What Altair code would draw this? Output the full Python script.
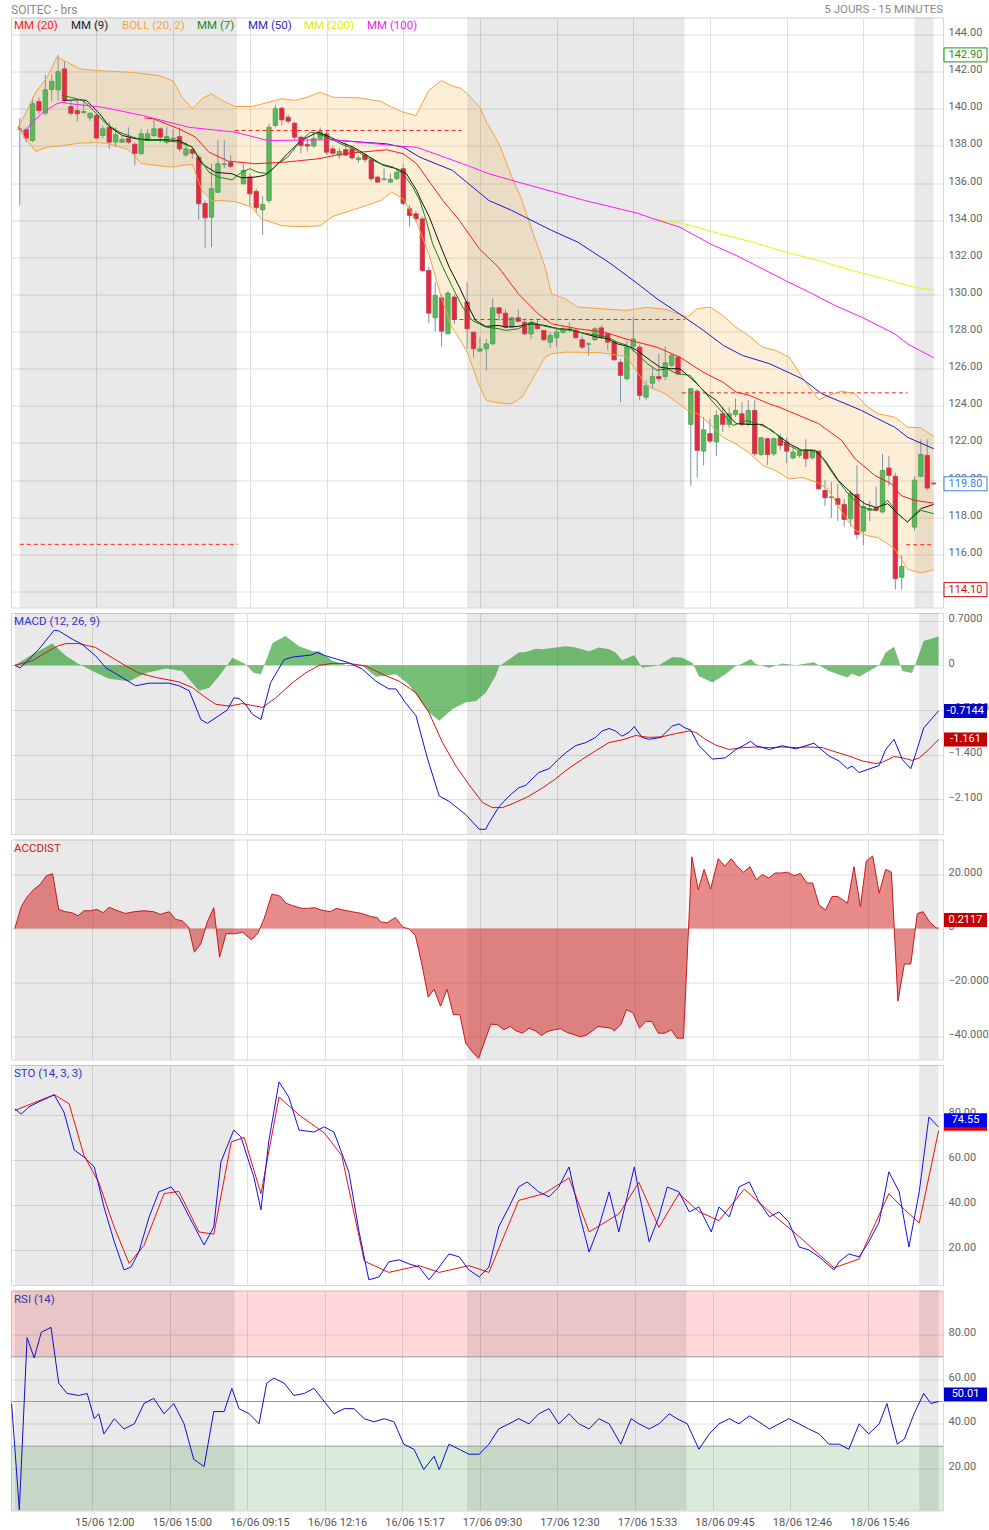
import altair as alt
import pandas as pd

FONT = "Roboto"
W = 932
H_HEAD, H_MAIN, H_MACD, H_ACC, H_STO, H_RSI = 12, 590, 221, 220, 220, 220

# ---------------- x axis (bar index) ----------------
X_DOMAIN = [-0.59, 143.68]
X_GRID = [12, 24, 36, 48, 60, 72, 84, 96, 108, 120, 132]
X_LABELS = ["15/06 12:00", "15/06 15:00", "16/06 09:15", "16/06 12:16", "16/06 15:17",
            "17/06 09:30", "17/06 12:30", "17/06 15:33", "18/06 09:45", "18/06 12:46", "18/06 15:46"]
SHADE_START = [0, 70, 140]
SHADE_END = [34, 104, 143]

# ---------------- candles: (open, high, low, close) per day ----------------
DAY_FIRST_BAR = [0, 35, 70, 105, 140]
DAY1 = [(138.9, 139.5, 134.8, 138.9), (138.87, 139.0, 138.2, 138.42), (138.29, 140.6, 138.2, 140.27),
        (140.39, 140.6, 139.7, 139.9), (139.76, 141.85, 139.64, 141.02), (141.04, 141.85, 140.4, 141.47),
        (141.02, 142.9, 140.45, 142.0), (142.15, 142.55, 140.3, 140.45), (140.12, 140.45, 139.64, 139.76),
        (139.9, 140.45, 139.3, 139.73), (139.8, 140.45, 139.7, 139.85), (139.51, 139.8, 139.35, 139.76),
        (139.64, 139.73, 138.35, 138.42), (138.56, 139.1, 138.4, 138.92), (139.0, 139.3, 137.84, 138.2),
        (138.2, 139.0, 137.93, 138.6), (138.2, 138.56, 138.15, 138.35), (138.4, 139.0, 138.1, 138.2),
        (138.08, 138.2, 136.95, 137.6), (137.58, 138.9, 137.53, 138.65), (138.38, 138.9, 138.3, 138.65),
        (138.56, 139.4, 138.47, 138.92), (138.92, 139.0, 138.2, 138.47), (138.2, 139.0, 138.11, 138.5),
        (138.4, 138.9, 138.2, 138.42), (138.5, 139.0, 137.7, 137.84), (137.52, 138.2, 137.4, 137.84),
        (137.8, 137.95, 137.3, 137.6), (137.39, 137.5, 134.04, 134.88), (134.9, 135.06, 132.5, 134.13),
        (134.16, 137.05, 132.55, 135.69), (135.5, 138.3, 135.5, 137.04), (137.0, 138.3, 136.8, 137.03),
        (137.1, 137.5, 136.8, 136.9)]
DAY2 = [(135.96, 137.0, 135.9, 136.68), (136.32, 136.5, 134.8, 135.42), (135.55, 135.7, 134.4, 134.67),
        (134.56, 135.3, 133.2, 134.85), (135.06, 139.2, 134.9, 139.0), (139.1, 140.2, 139.0, 140.0),
        (140.03, 140.1, 139.1, 139.4), (139.55, 139.7, 139.2, 139.33), (139.22, 139.3, 138.3, 138.47),
        (138.47, 138.56, 137.6, 138.02), (138.08, 138.4, 137.7, 137.99), (138.0, 138.74, 137.9, 138.4),
        (138.4, 139.0, 138.3, 138.76), (138.65, 138.8, 137.5, 137.66), (137.84, 138.0, 137.5, 137.6),
        (137.5, 137.9, 137.3, 137.7), (137.8, 138.25, 137.5, 137.5), (137.84, 138.0, 137.26, 137.35),
        (137.26, 137.5, 137.1, 137.35), (137.5, 137.6, 137.1, 137.26), (137.25, 137.3, 136.1, 136.23),
        (136.32, 136.4, 136.0, 136.05), (136.2, 136.8, 136.1, 136.22), (136.05, 136.5, 136.0, 136.2),
        (136.23, 136.77, 136.15, 136.58), (136.77, 137.0, 134.8, 134.9), (134.61, 134.8, 133.65, 134.25),
        (134.34, 134.5, 133.9, 134.07), (134.07, 134.2, 131.2, 131.29), (131.29, 131.5, 128.45, 128.99),
        (128.74, 130.66, 128.0, 129.94), (129.82, 130.0, 127.2, 128.02), (127.88, 130.2, 127.88, 130.07),
        (129.86, 130.0, 128.4, 128.65)]
DAY3 = [(129.59, 130.66, 127.07, 128.15), (127.97, 127.97, 126.6, 127.07), (126.95, 127.7, 126.9, 127.07),
        (127.07, 127.6, 125.9, 127.34), (127.34, 129.8, 127.3, 129.28), (129.28, 129.3, 128.6, 128.99),
        (128.99, 129.2, 128.15, 128.24), (128.24, 128.8, 128.2, 128.74), (128.74, 129.2, 128.5, 128.55),
        (128.5, 128.7, 127.8, 127.88), (127.88, 128.6, 127.6, 128.5), (128.38, 128.7, 128.15, 128.15),
        (128.06, 128.06, 127.5, 127.56), (127.43, 127.97, 127.1, 127.79), (127.67, 128.25, 127.2, 127.97),
        (127.97, 128.33, 127.88, 128.15), (128.12, 128.5, 127.97, 128.15), (128.06, 128.15, 127.6, 127.67),
        (127.56, 127.8, 127.06, 127.16), (127.32, 127.4, 126.7, 127.34), (127.56, 128.24, 127.5, 128.15),
        (128.2, 128.33, 127.6, 127.7), (127.88, 127.9, 127.0, 127.43), (127.43, 127.5, 126.43, 126.48),
        (126.35, 126.53, 124.2, 125.64), (125.46, 127.5, 125.37, 127.16), (127.2, 128.78, 126.9, 127.6),
        (127.16, 127.3, 124.3, 124.56), (124.47, 125.37, 124.3, 125.1), (125.22, 126.1, 124.9, 125.58),
        (125.58, 126.8, 125.3, 125.46), (125.58, 127.2, 125.37, 126.32), (126.18, 126.8, 126.1, 126.71),
        (126.62, 126.7, 125.64, 125.73)]
DAY4 = [(123.0, 124.95, 119.7, 124.92), (124.79, 124.9, 120.13, 121.6), (121.56, 123.4, 120.8, 122.71),
        (122.5, 123.3, 122.0, 122.1), (122.06, 123.75, 121.3, 123.48), (123.57, 123.93, 122.6, 123.0),
        (123.0, 123.93, 122.8, 123.57), (123.53, 124.4, 123.4, 123.75), (123.57, 124.2, 122.9, 123.0),
        (123.0, 124.3, 122.9, 123.75), (123.75, 124.3, 121.3, 121.42), (121.38, 122.3, 121.3, 122.28),
        (122.23, 122.28, 120.8, 121.38), (121.42, 122.3, 121.3, 122.23), (122.28, 122.5, 121.6, 121.87),
        (122.05, 122.3, 120.9, 121.56), (121.2, 121.8, 121.1, 121.51), (121.33, 121.6, 121.2, 121.56),
        (121.63, 122.2, 120.7, 121.15), (121.2, 121.6, 121.1, 121.56), (121.56, 121.6, 119.46, 119.53),
        (119.44, 120.0, 118.6, 119.05), (119.05, 119.9, 117.96, 119.1), (119.0, 119.8, 117.8, 118.69),
        (118.69, 119.0, 117.5, 117.88), (117.92, 119.45, 117.5, 119.3), (119.23, 120.8, 116.8, 117.07),
        (117.25, 118.9, 116.5, 118.58), (118.37, 118.9, 117.8, 118.46), (118.5, 119.65, 118.3, 118.37),
        (118.28, 121.4, 118.2, 120.52), (120.65, 121.3, 119.7, 120.25), (120.2, 120.4, 114.1, 114.69),
        (114.77, 115.95, 114.1, 115.35)]
DAY5 = [(117.47, 120.2, 117.3, 120.0), (120.2, 122.2, 120.15, 121.38), (121.33, 122.2, 119.45, 119.57),
        (119.84, 119.9, 119.75, 119.8)]

# ---------------- moving averages (bar, value) ----------------
MA20 = [(19.5, 139.5), (20.9, 139.46), (24.9, 138.92), (27.5, 138.47), (29.6, 137.66), (32.6, 137.18),
        (36.8, 137.04), (41.4, 137.12), (46.6, 137.3), (50.7, 137.58), (57.4, 137.79), (60.0, 137.58),
        (62.1, 137.04), (66.2, 135.06), (68.8, 133.98), (71.9, 132.46), (74.9, 131.47), (78.0, 130.04),
        (81.1, 128.96), (83.2, 128.42), (87.3, 128.15), (91.5, 127.97), (95.6, 127.52), (99.7, 127.16),
        (103.3, 126.62), (106.9, 125.82), (110.0, 125.28), (112.1, 124.74), (114.2, 124.56), (117.3, 124.1),
        (118.8, 123.93), (125.0, 123.04), (128.6, 122.14), (130.7, 121.15), (133.8, 120.25), (136.4, 119.8),
        (137.9, 119.17), (140.0, 118.91), (143.0, 118.76)]
MA9 = [(6.8, 140.45), (9.4, 140.48), (10.4, 140.45), (12.5, 139.73), (14.1, 139.01), (16.1, 138.56),
       (18.2, 138.38), (20.3, 138.33), (22.8, 138.33), (24.9, 138.29), (27.0, 137.93), (28.5, 137.04),
       (30.6, 136.58), (33.2, 136.5), (34.7, 136.28), (36.8, 136.32), (38.3, 136.41), (39.9, 136.85),
       (41.9, 137.58), (44.0, 138.29), (46.6, 138.74), (48.6, 138.47), (50.2, 138.2), (52.2, 137.93),
       (54.8, 137.39), (56.9, 136.95), (59.0, 136.77), (60.5, 136.5), (62.1, 135.6), (62.8, 135.06),
       (64.1, 134.16), (65.7, 132.73), (67.2, 131.47), (68.8, 130.39), (70.0, 129.5), (71.3, 128.6),
       (72.9, 128.28), (75.0, 128.33), (76.0, 128.24), (78.0, 128.28), (80.1, 128.42), (82.2, 128.33),
       (84.2, 128.15), (86.3, 128.1), (88.4, 127.88), (90.4, 127.7), (92.0, 127.61), (93.5, 127.34),
       (95.6, 127.16), (96.6, 126.98), (98.7, 126.44), (100.2, 126.08), (101.8, 126.0), (103.3, 126.0),
       (105.4, 125.37), (107.5, 124.65), (109.0, 124.29), (111.1, 123.39), (112.1, 123.04), (114.2, 123.0),
       (116.2, 123.0), (118.3, 122.5), (120.4, 121.96), (122.4, 121.6), (124.5, 121.6), (126.0, 121.06),
       (128.1, 119.98), (130.2, 119.27), (132.2, 118.73), (134.0, 118.52), (135.8, 118.73), (137.4, 118.19),
       (138.9, 117.74), (141.0, 118.46), (143.0, 118.69)]
MA7 = [(6.6, 140.72), (7.9, 140.62), (9.9, 140.45), (11.5, 139.91), (13.5, 139.19), (15.6, 138.74),
       (17.7, 138.47), (19.7, 138.29), (22.3, 138.29), (24.9, 138.2), (27.0, 137.93), (28.0, 137.39),
       (29.6, 136.58), (31.1, 136.32), (33.2, 136.17), (34.7, 136.58), (36.0, 136.77), (37.3, 136.58),
       (38.8, 136.5), (40.4, 137.04), (41.9, 137.39), (44.0, 138.29), (45.5, 138.74), (47.1, 138.6),
       (49.2, 138.29), (50.2, 138.11), (52.2, 137.84), (54.3, 137.39), (56.4, 137.04), (58.4, 136.86),
       (60.0, 136.5), (61.5, 135.78), (62.6, 135.06), (63.6, 133.98), (64.6, 132.73), (66.2, 131.47),
       (67.7, 130.39), (69.3, 129.32), (70.8, 128.6), (72.9, 128.24), (75.0, 128.15), (76.0, 128.06),
       (78.0, 128.15), (80.1, 128.51), (82.2, 128.28), (84.2, 128.15), (86.3, 128.06), (88.4, 127.91),
       (90.4, 127.79), (92.0, 127.7), (93.5, 127.43), (95.1, 127.25), (96.6, 126.8), (98.2, 126.27),
       (99.7, 125.91), (101.3, 126.0), (102.8, 125.73), (104.9, 125.64), (106.9, 124.83), (108.5, 124.2),
       (110.1, 123.57), (111.6, 122.94), (113.7, 123.21), (115.7, 123.0), (117.8, 122.68), (119.8, 121.96),
       (121.9, 121.6), (124.0, 121.63), (125.5, 121.24), (127.6, 120.16), (129.6, 119.27), (131.7, 118.55),
       (133.8, 118.37), (135.8, 118.91), (137.4, 118.19), (138.9, 117.74), (141.0, 118.37), (143.0, 118.19)]
MA50 = [(48.6, 138.35), (50.2, 138.29), (53.7, 138.2), (57.4, 138.11), (60.0, 137.93), (62.6, 137.39),
        (67.7, 136.68), (73.4, 135.06), (77.0, 134.52), (83.2, 133.45), (87.3, 132.82), (92.5, 131.65),
        (96.6, 130.6), (99.7, 129.77), (102.8, 129.05), (107.0, 128.06), (110.1, 127.25), (113.1, 126.71),
        (117.3, 126.27), (122.4, 125.46), (125.5, 124.65), (131.7, 123.75), (132.7, 123.57), (136.9, 122.85),
        (138.9, 122.31), (143.0, 121.69)]
MA200 = [(99.2, 134.07), (104.4, 133.77), (109.5, 133.27), (114.7, 132.82), (119.8, 132.28), (125.0, 131.83),
         (130.2, 131.29), (135.3, 130.84), (139.5, 130.43), (143.0, 130.21)]
MA100 = [(-0.3, 139.0), (0.8, 138.68), (1.7, 139.19), (3.7, 139.82), (5.8, 140.27), (6.6, 140.35),
         (7.9, 140.27), (13.0, 140.08), (19.2, 139.64), (26.5, 139.0), (33.7, 138.74), (38.8, 138.29),
         (48.6, 138.33), (50.2, 138.29), (60.0, 137.97), (62.1, 137.93), (69.3, 137.04), (73.4, 136.5),
         (78.0, 136.05), (84.2, 135.46), (88.4, 135.06), (96.6, 134.38), (99.2, 134.07), (103.3, 133.62),
         (108.0, 132.73), (112.1, 132.1), (119.8, 130.75), (124.0, 130.04), (127.6, 129.4), (131.7, 128.78),
         (136.9, 127.88), (138.9, 127.34), (143.0, 126.59)]
# Bollinger (20, 2): bar, upper, lower
BOLL = [(-0.3, 139.0, 139.0), (1.0, 139.8, 138.35), (2.5, 140.9, 137.7), (4.3, 141.7, 137.93),
        (5.8, 142.78, 137.98), (7.4, 142.51, 138.05), (9.4, 142.15, 138.15), (12.0, 142.06, 138.18),
        (14.0, 142.02, 138.11), (17.0, 141.97, 137.8), (19.0, 141.9, 137.05), (21.8, 141.79, 136.93),
        (24.0, 141.5, 136.86), (25.4, 140.62, 136.95), (27.0, 140.0, 137.0), (28.5, 140.54, 135.6),
        (30.0, 140.81, 135.06), (31.6, 140.45, 135.05), (33.7, 140.12, 135.0), (36.3, 140.12, 134.7),
        (37.8, 140.25, 134.07), (41.0, 140.54, 133.7), (43.0, 140.45, 133.66), (45.0, 140.62, 133.66),
        (47.0, 140.89, 133.7), (49.0, 140.62, 134.2), (53.0, 140.59, 134.65), (56.5, 140.4, 135.06),
        (58.2, 140.08, 135.51), (60.0, 139.82, 135.15), (62.0, 139.64, 133.98), (64.0, 140.98, 132.19),
        (66.0, 141.52, 129.8), (67.5, 141.25, 128.3), (69.0, 141.1, 127.5), (70.0, 140.81, 126.9),
        (72.0, 140.08, 125.0), (73.0, 139.3, 124.3), (75.0, 138.11, 124.15), (77.0, 136.32, 124.11),
        (78.6, 135.06, 124.47), (80.0, 133.62, 125.3), (82.2, 131.47, 126.62), (83.2, 130.04, 126.8),
        (85.3, 129.77, 126.89), (87.3, 129.32, 126.89), (91.0, 129.23, 126.85), (95.0, 129.14, 126.65),
        (98.0, 129.3, 125.1), (101.0, 129.2, 124.65), (104.5, 128.78, 123.75), (106.0, 129.23, 123.6),
        (108.0, 129.32, 123.0), (110.0, 128.87, 122.31), (112.0, 128.24, 121.96), (114.0, 127.8, 121.5),
        (116.2, 127.16, 120.8), (118.3, 126.98, 120.5), (120.4, 126.62, 120.06), (122.4, 125.55, 120.14),
        (125.0, 124.33, 119.85), (126.5, 124.56, 119.5), (128.6, 124.79, 118.3), (130.7, 124.65, 117.3),
        (132.7, 123.93, 117.0), (134.3, 123.57, 116.9), (136.9, 123.39, 116.3), (138.9, 122.85, 115.2),
        (141.0, 122.82, 115.0), (143.0, 122.35, 115.17)]
# dashed support / resistance levels: start bar, end bar, price
LEVELS = [(0, 34.1, 116.54), (33.6, 69.1, 138.83), (67.7, 104.1, 128.65), (103.6, 138.9, 124.7),
          (138.7, 143.0, 116.52)]
PRICE_TAGS = [(142.90, "142.90", "#1f8f1f"), (119.80, "119.80", "#3d7ee6"), (114.10, "114.10", "#cc1111")]

# ---------------- MACD (12, 26, 9) ----------------
MACD_LINE = [(0, 0.0), (0.8, -0.04), (1.7, 0.04), (3.7, 0.25), (6.1, 0.55), (6.8, 0.54), (8.9, 0.41),
             (10.4, 0.33), (12.5, 0.15), (14.1, -0.04), (16.6, -0.19), (18.7, -0.32), (20.8, -0.28),
             (23.9, -0.28), (25.4, -0.32), (27.0, -0.40), (28.8, -0.85), (29.8, -0.91), (32.9, -0.70),
             (33.9, -0.51), (34.7, -0.52), (35.7, -0.61), (36.8, -0.77), (38.1, -0.85), (39.6, -0.27),
             (41.7, 0.09), (43.0, 0.13), (45.8, 0.16), (46.8, 0.20), (48.1, 0.15), (51.7, 0.04),
             (53.8, -0.06), (55.9, -0.25), (57.9, -0.37), (59.0, -0.37), (60.5, -0.59), (62.1, -0.79),
             (63.9, -1.47), (65.7, -2.05), (67.2, -2.13), (69.8, -2.34), (71.9, -2.57), (72.9, -2.57),
             (73.4, -2.47), (75.0, -2.21), (76.5, -2.05), (78.0, -1.92), (79.1, -1.88), (81.1, -1.68),
             (82.7, -1.62), (84.2, -1.47), (85.3, -1.37), (86.8, -1.26), (88.4, -1.21), (89.9, -1.13),
             (90.9, -1.03), (92.0, -0.99), (93.0, -1.03), (94.0, -1.11), (95.1, -1.05), (95.9, -0.96),
             (97.1, -1.13), (98.2, -1.16), (100.0, -1.13), (101.8, -0.95), (102.8, -0.92), (103.9, -0.99),
             (104.6, -1.01), (105.9, -1.26), (108.0, -1.47), (110.0, -1.45), (111.6, -1.32), (113.1, -1.24),
             (113.9, -1.19), (114.7, -1.26), (116.8, -1.32), (118.8, -1.26), (120.9, -1.31), (123.7, -1.22),
             (126.0, -1.42), (127.6, -1.50), (128.9, -1.62), (129.6, -1.58), (130.7, -1.68), (133.8, -1.57),
             (134.8, -1.32), (136.1, -1.16), (137.4, -1.48), (138.7, -1.62), (139.5, -1.37), (140.7, -0.98),
             (143.0, -0.7144)]
MACD_SIGNAL = [(0, 0.0), (2.7, 0.07), (4.8, 0.20), (6.8, 0.31), (7.9, 0.34), (9.9, 0.34), (12.5, 0.28),
               (14.6, 0.15), (17.2, -0.01), (19.2, -0.12), (21.8, -0.19), (25.4, -0.26), (27.5, -0.35),
               (29.6, -0.51), (31.1, -0.61), (33.2, -0.64), (35.2, -0.60), (36.8, -0.63), (38.3, -0.66),
               (40.4, -0.51), (43.0, -0.27), (45.0, -0.12), (47.1, 0.0), (49.2, 0.03), (51.7, 0.03),
               (54.3, -0.01), (56.9, -0.14), (59.5, -0.25), (62.1, -0.43), (64.1, -0.74), (66.2, -1.21),
               (68.3, -1.58), (70.3, -1.87), (72.4, -2.15), (73.9, -2.23), (75.5, -2.23), (77.5, -2.15),
               (79.6, -2.05), (81.7, -1.92), (83.7, -1.78), (85.8, -1.61), (87.9, -1.47), (89.9, -1.34),
               (92.0, -1.21), (94.0, -1.17), (96.1, -1.10), (98.2, -1.13), (100.2, -1.12), (102.3, -1.07),
               (104.4, -1.03), (105.4, -1.05), (106.9, -1.16), (108.5, -1.25), (110.6, -1.32), (112.6, -1.29),
               (114.7, -1.28), (116.8, -1.29), (118.8, -1.28), (120.9, -1.29), (122.9, -1.28), (125.0, -1.29),
               (127.1, -1.36), (129.1, -1.42), (131.2, -1.50), (133.3, -1.54), (134.3, -1.52), (136.1, -1.43),
               (137.4, -1.45), (138.9, -1.49), (140.0, -1.45), (141.5, -1.32), (143.0, -1.161)]
MACD_HIST = [(0, 0.0), (2.7, 0.17), (5.8, 0.34), (7.9, 0.15), (9.9, 0.02), (12.0, -0.09), (14.6, -0.21),
             (17.7, -0.25), (20.3, -0.12), (23.4, -0.05), (25.9, -0.09), (28.5, -0.40), (30.1, -0.35),
             (31.6, -0.17), (33.7, 0.12), (35.7, 0.02), (37.0, -0.12), (38.1, -0.14), (39.9, 0.35),
             (41.9, 0.46), (44.0, 0.30), (46.1, 0.22), (47.1, 0.22), (49.2, 0.07), (51.7, -0.01),
             (53.8, -0.01), (55.9, -0.18), (59.0, -0.14), (61.0, -0.30), (62.6, -0.53), (64.1, -0.74),
             (65.7, -0.87), (67.7, -0.69), (69.8, -0.58), (71.4, -0.56), (72.9, -0.43), (74.4, -0.17),
             (75.0, -0.01), (76.5, 0.09), (78.0, 0.20), (79.1, 0.21), (80.6, 0.26), (81.7, 0.25),
             (83.7, 0.28), (85.3, 0.30), (86.8, 0.28), (88.9, 0.22), (90.4, 0.28), (92.0, 0.25),
             (93.0, 0.20), (94.0, 0.08), (95.9, 0.16), (97.1, -0.04), (99.7, 0.0), (101.8, 0.13),
             (103.3, 0.12), (104.9, 0.04), (105.9, -0.17), (108.0, -0.27), (110.0, -0.14), (111.6, -0.01),
             (112.6, 0.03), (113.9, 0.10), (114.7, 0.02), (116.8, -0.04), (118.8, 0.03), (120.9, 0.0),
             (123.7, 0.05), (126.0, -0.09), (128.9, -0.19), (129.6, -0.13), (130.7, -0.18), (133.8, 0.0),
             (134.8, 0.20), (136.1, 0.29), (137.4, -0.09), (138.9, -0.12), (140.7, 0.38), (143.0, 0.45)]
MACD_TAGS = [(-0.7144, "-0.7144", "#0000c4"), (-1.161, "-1.161", "#c40000")]

# ---------------- ACCDIST ----------------
ACCDIST = [(0, 0), (1.0, 8.1), (1.95, 11.9), (2.9, 14.4), (3.9, 16.3), (4.9, 19.6), (5.85, 20.3), (6.8, 7.1),
           (7.8, 6.25), (8.8, 5.9), (9.8, 4.75), (10.7, 6.6), (11.7, 6.6), (12.7, 7.1), (13.7, 5.9),
           (14.6, 7.9), (15.6, 6.9), (17.1, 5.6), (18.5, 6.25), (20.0, 6.6), (21.5, 6.25), (22.5, 5.25),
           (23.9, 6.25), (24.9, 3.4), (25.9, 2.9), (26.9, 0.6), (27.8, -8.75), (28.8, -5.6), (29.8, 2.5),
           (30.8, 7.75), (31.7, -10.6), (32.7, -1.9), (34.2, -1.9), (35.2, -1.25), (36.6, -4.1), (37.6, -1.9),
           (38.6, 3.75), (39.8, 12.75), (41.0, 12.1), (42.0, 9.4), (43.0, 8.5), (44.4, 7.5), (45.4, 7.5),
           (46.4, 7.75), (47.4, 6.9), (48.8, 6.25), (49.8, 7.5), (50.8, 6.9), (52.2, 6.25), (53.7, 5.6),
           (55.2, 4.4), (56.1, 4.1), (56.6, 2.5), (57.6, 2.1), (58.9, 4.1), (60.1, 0.4), (61.0, 0),
           (62.0, -2.5), (63.0, -13.1), (64.0, -25.4), (64.9, -22.5), (65.9, -28.75), (66.9, -22.5),
           (67.9, -31.9), (68.9, -31.9), (69.8, -42.5), (70.8, -45.6), (71.8, -48.1), (72.8, -41.25),
           (73.7, -35.4), (74.7, -35.6), (75.7, -37.5), (76.7, -36.25), (77.6, -37.9), (78.6, -38.75),
           (79.6, -36.9), (80.6, -37.9), (81.5, -39.6), (82.5, -38.1), (83.5, -37.5), (84.5, -37.1),
           (85.5, -38.5), (86.4, -39.1), (87.4, -40.1), (88.4, -39.6), (89.4, -37.9), (90.3, -36.25),
           (91.3, -36.6), (92.3, -36.9), (92.8, -37.9), (93.8, -35.6), (94.7, -30.0), (95.7, -31.25),
           (96.7, -36.9), (97.7, -34.4), (98.6, -34.4), (99.6, -38.75), (100.6, -38.75), (101.6, -37.5),
           (102.5, -40.6), (103.5, -40.6), (104.8, 26.6), (105.8, 14.4), (106.7, 21.9), (107.7, 14.6),
           (108.9, 25.9), (109.9, 23.1), (110.9, 25.9), (111.8, 23.1), (112.8, 20.9), (113.8, 22.9),
           (114.8, 18.1), (115.7, 20.0), (116.7, 18.75), (117.7, 20.6), (118.7, 20.6), (119.6, 20.9),
           (120.6, 19.6), (121.6, 20.4), (122.6, 16.9), (123.5, 16.9), (124.5, 8.75), (125.5, 6.9),
           (126.5, 11.9), (127.4, 11.9), (128.9, 9.4), (129.9, 22.9), (130.9, 8.1), (131.8, 25.0),
           (132.8, 26.9), (133.8, 13.1), (134.8, 21.9), (135.7, 20.9), (136.7, -26.9), (137.7, -13.1),
           (138.7, -13.1), (139.7, 5.6), (140.6, 6.25), (141.6, 2.5), (142.6, 0.25), (143.0, 0.2117)]
ACC_TAG = (0.2117, "0.2117", "#c40000")

# ---------------- Stochastic (14, 3, 3) ----------------
STO_K = [(0, 82.7), (1.0, 80.4), (2.2, 83.6), (3.7, 85.8), (6.1, 88.9), (7.6, 81.3), (9.2, 64.4), (10.7, 61.3),
         (12.3, 56.9), (13.8, 39.1), (15.4, 23.6), (16.9, 11.1), (18.0, 12.4), (19.2, 19.1), (20.8, 34.7),
         (22.3, 45.8), (24.2, 48.0), (25.4, 43.6), (27.0, 34.7), (29.3, 22.2), (30.8, 30.2), (31.9, 59.1),
         (33.9, 73.3), (35.0, 70.2), (37.0, 52.4), (38.1, 37.8), (39.3, 68.0), (40.9, 94.7), (42.4, 88.0),
         (44.0, 73.3), (46.3, 72.4), (47.9, 74.7), (49.4, 72.4), (51.7, 54.7), (53.3, 28.0), (54.8, 6.7),
         (56.4, 8.0), (57.9, 14.7), (59.5, 15.6), (61.0, 13.8), (62.6, 12.4), (64.1, 6.7), (65.7, 12.4),
         (67.2, 18.2), (68.8, 16.9), (70.3, 11.1), (71.9, 8.0), (73.4, 12.4), (74.9, 30.2), (76.5, 39.1),
         (78.0, 48.0), (79.3, 50.2), (81.1, 45.8), (82.7, 43.6), (84.2, 48.0), (85.8, 56.9), (87.3, 36.9),
         (88.9, 19.1), (90.4, 30.2), (92.0, 45.8), (93.5, 28.0), (95.9, 56.9), (96.6, 45.8), (98.2, 23.6),
         (99.7, 34.7), (101.0, 48.0), (102.8, 45.8), (104.4, 36.9), (105.9, 39.1), (107.8, 28.0),
         (109.0, 39.1), (110.6, 34.7), (112.1, 48.0), (113.7, 50.2), (115.2, 41.3), (116.8, 34.7),
         (118.3, 36.9), (119.8, 32.4), (121.4, 21.3), (122.9, 20.0), (124.5, 16.9), (126.8, 11.1),
         (127.6, 14.7), (129.1, 18.2), (130.7, 16.9), (132.2, 23.6), (133.8, 32.4), (135.3, 54.7),
         (136.9, 45.8), (138.4, 21.3), (140.0, 45.8), (141.5, 79.1), (143.0, 74.55)]
STO_D = [(0, 82.0), (6.1, 89.0), (8.4, 85.0), (10.7, 62.0), (13.0, 50.0), (15.4, 30.0), (17.7, 14.0),
         (20.0, 22.0), (23.1, 45.0), (25.4, 46.0), (28.5, 28.0), (30.8, 27.0), (33.5, 68.0), (35.5, 70.0),
         (38.1, 45.0), (40.9, 88.0), (44.0, 80.0), (47.9, 72.0), (50.6, 62.0), (54.1, 15.0), (57.9, 10.0),
         (62.6, 13.0), (65.7, 10.0), (70.3, 13.0), (73.4, 10.0), (78.0, 42.0), (81.9, 45.0), (85.8, 52.0),
         (88.9, 28.0), (93.5, 36.0), (96.6, 50.0), (99.7, 30.0), (102.8, 45.0), (105.9, 37.0), (109.0, 33.0),
         (112.9, 47.0), (116.8, 37.0), (121.4, 26.0), (126.8, 12.0), (130.7, 16.0), (135.3, 45.0),
         (137.7, 38.0), (140.0, 32.0), (143.0, 73.0)]
STO_TAGS_BACK = [(73.0, "", "#e00000")]
STO_TAGS = [(74.55, "74.55", "#0000ee")]

# ---------------- RSI (14) ----------------
RSI = [(-0.5, 49.1), (0.7, 1.5), (1.9, 78.6), (3.0, 69.5), (4.1, 81.0), (5.6, 83.2), (6.8, 58.2), (8.1, 53.6),
       (9.9, 52.7), (11.2, 53.6), (12.3, 42.3), (13.0, 44.5), (13.8, 35.5), (15.4, 42.3), (16.9, 37.7),
       (18.5, 40.0), (20.0, 49.1), (21.5, 51.4), (23.1, 44.5), (24.6, 49.1), (26.2, 40.0), (27.7, 24.1),
       (29.3, 20.9), (30.8, 45.5), (32.4, 45.5), (33.6, 55.9), (34.7, 46.8), (36.3, 44.5), (37.8, 40.0),
       (39.0, 58.2), (40.1, 60.5), (41.7, 58.2), (43.2, 52.7), (44.8, 53.6), (46.3, 55.9), (47.9, 50.0),
       (49.4, 44.5), (51.0, 46.8), (52.5, 46.8), (54.1, 42.3), (55.6, 40.9), (57.2, 42.3), (58.7, 40.9),
       (60.2, 30.9), (61.8, 28.6), (63.3, 19.5), (64.9, 25.5), (65.7, 19.5), (67.2, 30.9), (68.8, 28.6),
       (70.3, 26.4), (71.9, 26.4), (73.4, 30.9), (74.9, 37.7), (76.5, 40.0), (78.0, 42.3), (79.6, 40.0),
       (81.1, 44.5), (82.7, 46.8), (84.2, 40.0), (85.8, 44.5), (87.3, 40.0), (88.9, 37.7), (90.4, 42.3),
       (92.0, 40.0), (93.8, 30.9), (95.4, 42.3), (96.6, 40.0), (98.2, 37.7), (99.7, 40.0), (101.3, 44.5),
       (102.5, 42.3), (104.1, 40.0), (105.9, 28.6), (107.5, 35.5), (109.0, 40.0), (110.6, 42.3),
       (112.1, 40.0), (113.7, 43.6), (115.2, 40.9), (116.8, 37.7), (118.3, 40.0), (119.8, 42.3),
       (121.4, 40.0), (122.9, 37.7), (124.5, 35.5), (126.0, 30.9), (127.6, 30.9), (129.1, 28.6),
       (130.7, 40.0), (132.2, 35.5), (133.8, 40.0), (135.0, 49.1), (136.6, 30.9), (137.7, 33.2),
       (139.2, 44.5), (140.7, 53.6), (141.8, 49.1), (143.0, 50.01)]
RSI_TAG = (50.01, "50.01", "#0000cc")
RSI_ZONES = [(70, 100, "#ff0000"), (0, 30, "#008000")]
RSI_LINES = [30, 50, 70]

# =====================================================================
ONE = pd.DataFrame({"k": [0]})
xs = alt.Scale(domain=X_DOMAIN, nice=False, zero=False)


def x_axis(labels):
    if labels:
        expr = "[" + ",".join("'%s'" % s for s in X_LABELS) + "][round(datum.value / 12) - 1]"
        return alt.Axis(values=X_GRID, grid=True, labels=True, ticks=False, domain=False, title=None,
                        labelExpr=expr, labelOffset=12, labelPadding=6, labelFontSize=11,
                        labelColor="#555555")
    return alt.Axis(values=X_GRID, grid=True, labels=False, ticks=False, domain=False, title=None)


def make_xy(domain, yaxis, labels=False):
    xa = x_axis(labels)
    ys = alt.Scale(domain=domain, nice=False, zero=False)
    X = lambda f: alt.X(f, type="quantitative", scale=xs, axis=xa)
    Y = lambda f: alt.Y(f, type="quantitative", scale=ys, axis=yaxis)
    return X, Y


def y_axis(values, fmt=None, expr=None):
    kw = dict(orient="right", values=values, grid=True, ticks=False, domain=False, title=None,
              labelPadding=5, labelOffset=-2)
    if expr:
        kw["labelExpr"] = expr
    else:
        kw["format"] = fmt
    return alt.Axis(**kw)


def shade(X, h):
    df = pd.DataFrame({"s": SHADE_START, "e": SHADE_END})
    return alt.Chart(df).mark_rect(color="#000000", opacity=0.085).encode(
        x=X("s"), x2="e:Q", y=alt.value(0), y2=alt.value(h))


def series(points, X, Y, color, width=1.0):
    df = pd.DataFrame(points, columns=["bar", "v"])
    return alt.Chart(df).mark_line(color=color, strokeWidth=width, strokeJoin="round").encode(
        x=X("bar"), y=Y("v"))


def tag(points, Y, filled, dy=0):
    df = pd.DataFrame(points, columns=["v", "t", "c"])
    if filled:
        box = alt.Chart(df).mark_rect(yOffset=dy - 7, y2Offset=dy + 7).encode(
            x=alt.value(W + 1), x2=alt.value(W + 44), y=Y("v"), y2="v:Q",
            fill=alt.Color("c:N", scale=None))
        txt = alt.Chart(df).mark_text(font=FONT, fontSize=11, color="white", dy=dy).encode(
            x=alt.value(W + 22.5), y=Y("v"), text="t:N")
    else:
        box = alt.Chart(df).mark_rect(fill="white", strokeWidth=1, yOffset=dy - 7, y2Offset=dy + 7).encode(
            x=alt.value(W + 1), x2=alt.value(W + 44), y=Y("v"), y2="v:Q",
            stroke=alt.Color("c:N", scale=None))
        txt = alt.Chart(df).mark_text(font=FONT, fontSize=11, dy=dy).encode(
            x=alt.value(W + 22.5), y=Y("v"), text="t:N", color=alt.Color("c:N", scale=None))
    return [box, txt]


def label(text, color, x, y=9, size=11.5):
    return alt.Chart(ONE).mark_text(text=text, color=color, align="left", baseline="middle",
                                    font=FONT, fontSize=size).encode(x=alt.value(x), y=alt.value(y))


# ---------------- header ----------------
head = alt.layer(
    alt.Chart(ONE).mark_text(text="SOITEC - brs", color="#8a8a8a", align="left", baseline="middle",
                             font=FONT, fontSize=12).encode(x=alt.value(0), y=alt.value(9.5)),
    alt.Chart(ONE).mark_text(text="5 JOURS - 15 MINUTES", color="#8a8a8a", align="right", baseline="middle",
                             font=FONT, fontSize=11.5).encode(x=alt.value(W), y=alt.value(9.5)),
).properties(width=W, height=H_HEAD, view=alt.ViewBackground(strokeOpacity=0))

# ---------------- main price panel ----------------
Xm, Ym = make_xy([113.138, 144.915], y_axis(list(range(114, 145, 2)), fmt=".2f"))
rows = []
for first, day in zip(DAY_FIRST_BAR, [DAY1, DAY2, DAY3, DAY4, DAY5]):
    for i, (o, h, l, c) in enumerate(day):
        rows.append({"bar": first + i, "open": o, "high": h, "low": l, "close": c})
candles = pd.DataFrame(rows)
bolldf = pd.DataFrame(BOLL, columns=["bar", "up", "lo"])
levdf = pd.DataFrame(LEVELS, columns=["x1", "x2", "p"])
up_cond = "datum.close >= datum.open"

main_layers = [
    shade(Xm, H_MAIN),
    alt.Chart(bolldf).mark_area(color="#f5a623", opacity=0.18).encode(x=Xm("bar"), y=Ym("up"), y2="lo:Q"),
    alt.Chart(candles).mark_rule(color="#7f92a8", strokeWidth=1).encode(x=Xm("bar"), y=Ym("low"), y2="high:Q"),
    alt.Chart(candles).mark_bar(width=4.4, strokeWidth=0.8).encode(
        x=Xm("bar"), y=Ym("open"), y2="close:Q",
        fill=alt.condition(up_cond, alt.value("#5cb85c"), alt.value("#e5283d")),
        stroke=alt.condition(up_cond, alt.value("#4b9e4b"), alt.value("#bf4050"))),
    alt.Chart(levdf).mark_rule(color="#ff2020", strokeDash=[4, 3], strokeWidth=1).encode(
        x=Xm("x1"), x2="x2:Q", y=Ym("p")),
    series(MA20, Xm, Ym, "#ff1a1a"),
    series(MA9, Xm, Ym, "#1a1010"),
    alt.Chart(bolldf).mark_line(color="#f5a33a", strokeWidth=1).encode(x=Xm("bar"), y=Ym("up")),
    alt.Chart(bolldf).mark_line(color="#f5a33a", strokeWidth=1).encode(x=Xm("bar"), y=Ym("lo")),
    series(MA7, Xm, Ym, "#0a8a0a"),
    series(MA50, Xm, Ym, "#1c1cc8"),
    series(MA200, Xm, Ym, "#f2f200"),
    series(MA100, Xm, Ym, "#ff1aff"),
    label("MM (20)", "#ff2020", 3, 8),
    label("MM (9)", "#222222", 60, 8),
    label("BOLL (20, 2)", "#f5a640", 111, 8),
    label("MM (7)", "#1a8a1a", 186, 8),
    label("MM (50)", "#2a2ad0", 237, 8),
    label("MM (200)", "#e8e800", 293, 8),
    label("MM (100)", "#f020f0", 356, 8),
] + tag(PRICE_TAGS, Ym, filled=False)
main = alt.layer(*main_layers).properties(width=W, height=H_MAIN)

# ---------------- MACD panel ----------------
macd_expr = ("datum.value == 0 ? '0' : (abs(datum.value) < 1 ? format(datum.value, '.4f') "
             ": format(datum.value, '.3f'))")
Xc, Yc = make_xy([-2.644, 0.820], y_axis([0.7, 0, -0.7, -1.4, -2.1], expr=macd_expr))
histdf = pd.DataFrame(MACD_HIST, columns=["bar", "v"])
macd = alt.layer(
    shade(Xc, H_MACD),
    alt.Chart(histdf).mark_area(color="#2e9b2e", opacity=0.65).encode(x=Xc("bar"), y=Yc("v"), y2=alt.datum(0)),
    series(MACD_SIGNAL, Xc, Yc, "#dd1111"),
    series(MACD_LINE, Xc, Yc, "#1010dd"),
    label("MACD (12, 26, 9)", "#3434c8", 3, 9),
    *tag(MACD_TAGS, Yc, filled=True),
).properties(width=W, height=H_MACD)

# ---------------- ACCDIST panel ----------------
Xa, Ya = make_xy([-48.5, 33.0], y_axis([20, 0, -20, -40],
                                         expr="datum.value == 0 ? '0' : format(datum.value, '.3f')"))
accdf = pd.DataFrame(ACCDIST, columns=["bar", "v"])
acc = alt.layer(
    shade(Xa, H_ACC),
    alt.Chart(accdf).mark_area(color="#d42a2a", opacity=0.55).encode(x=Xa("bar"), y=Ya("v"), y2=alt.datum(0)),
    alt.Chart(accdf).mark_line(color="#c41a1a", strokeWidth=1, strokeJoin="round").encode(x=Xa("bar"), y=Ya("v")),
    label("ACCDIST", "#cc2020", 3, 9),
    *tag([ACC_TAG], Ya, filled=True, dy=-8),
).properties(width=W, height=H_ACC)

# ---------------- STO panel ----------------
Xs, Ys = make_xy([4.4, 102.2], y_axis([20, 40, 60, 80], fmt=".2f"))
sto = alt.layer(
    shade(Xs, H_STO),
    series(STO_D, Xs, Ys, "#ee1111"),
    series(STO_K, Xs, Ys, "#1111ee"),
    label("STO (14, 3, 3)", "#3434c8", 3, 9),
    *tag(STO_TAGS_BACK, Ys, filled=True, dy=-7),
    *tag(STO_TAGS, Ys, filled=True, dy=-7),
).properties(width=W, height=H_STO)

# ---------------- RSI panel ----------------
Xr, Yr = make_xy([1.2, 99.7], y_axis([20, 40, 60, 80], fmt=".2f"), labels=True)
zonedf = pd.DataFrame(RSI_ZONES, columns=["a", "b", "c"])
rlines = pd.DataFrame({"v": RSI_LINES})
rsi = alt.layer(
    alt.Chart(zonedf).mark_rect(opacity=0.15, clip=True).encode(
        x=alt.value(0), x2=alt.value(W), y=Yr("a"), y2="b:Q", fill=alt.Color("c:N", scale=None)),
    shade(Xr, H_RSI),
    alt.Chart(rlines).mark_rule(color="#9a9a9a", strokeWidth=1).encode(
        x=alt.value(0), x2=alt.value(W), y=Yr("v")),
    series(RSI, Xr, Yr, "#1010cc"),
    label("RSI (14)", "#3434b8", 3, 9),
    *tag([RSI_TAG], Yr, filled=True, dy=-7),
).properties(width=W, height=H_RSI)

chart = alt.vconcat(head, main, macd, acc, sto, rsi, spacing=5.5, bounds="flush").properties(
    padding={"left": 10, "top": 0, "right": 0, "bottom": 0},
    background="white",
).configure_view(stroke="#d6d6d6", strokeWidth=1).configure_axis(
    labelFont=FONT, labelFontSize=11, labelColor="#666666", gridColor="#e0e0e0", gridWidth=1
)

chart.save("out.html", embed_options={"renderer": "svg", "actions": False})
